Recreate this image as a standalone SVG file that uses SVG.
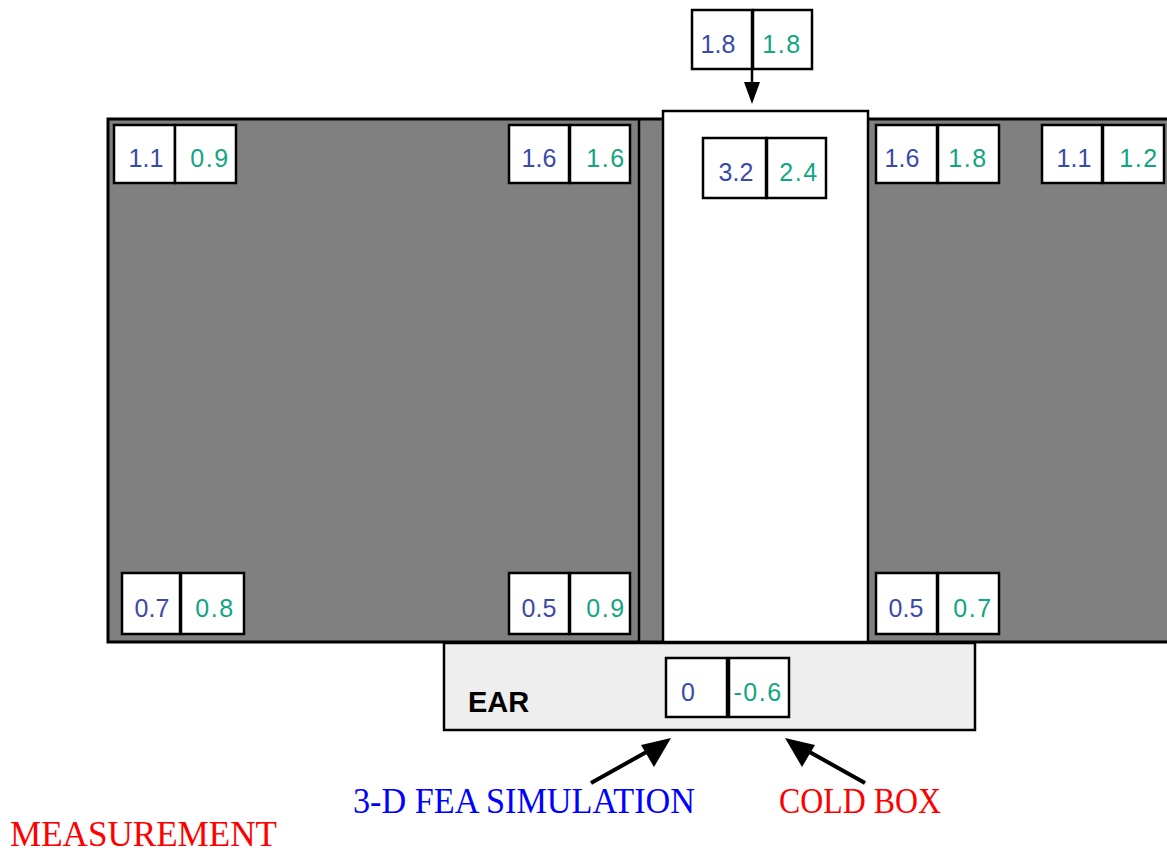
<svg xmlns="http://www.w3.org/2000/svg" width="1167" height="852" viewBox="0 0 1167 852">
<style>
.cell{fill:#fff;stroke:#000;stroke-width:2.5}
.b{font-family:"Liberation Sans",Arial,sans-serif;font-size:25px;fill:#3a4aa8;text-anchor:middle}
.g{font-family:"Liberation Sans",Arial,sans-serif;font-size:25px;fill:#12a582;text-anchor:middle;letter-spacing:1.5px}
.lbl{font-family:"Liberation Serif","Times New Roman",serif;font-size:35px}
.arrow{stroke:#000;stroke-width:4;fill:none}
</style>
<rect width="1167" height="852" fill="#fff"/>
<g id="structure">
<rect x="108" y="119" width="1075" height="523" fill="#808080" stroke="#000" stroke-width="3"/>
<line x1="639" y1="119" x2="639" y2="642" stroke="#000" stroke-width="2.5"/>
<rect x="663" y="111" width="205" height="531" fill="#fff" stroke="#000" stroke-width="2.5"/>
</g>
<g id="ear">
<rect x="444" y="643" width="531" height="87" fill="#eeeeee" stroke="#000" stroke-width="2.5"/>
<text x="468" y="712" font-family="Liberation Sans,Arial,sans-serif" font-size="29" font-weight="bold" fill="#000">EAR</text>
</g>
<g id="n-tl">
<rect class="cell" x="114" y="125" width="61" height="58"/><rect class="cell" x="175" y="125" width="61" height="58"/>
<text class="b" x="146" y="167">1.1</text><text class="g" x="210" y="167">0.9</text>
</g>
<g id="n-tm">
<rect class="cell" x="509" y="125" width="60" height="58"/><rect class="cell" x="570" y="125" width="60" height="58"/>
<text class="b" x="539" y="167">1.6</text><text class="g" x="606" y="167">1.6</text>
</g>
<g id="n-bl">
<rect class="cell" x="122" y="573" width="58" height="61"/><rect class="cell" x="181" y="573" width="63" height="61"/>
<text class="b" x="152" y="617">0.7</text><text class="g" x="215" y="617">0.8</text>
</g>
<g id="n-bm">
<rect class="cell" x="509" y="573" width="60" height="61"/><rect class="cell" x="570" y="573" width="60" height="61"/>
<text class="b" x="539" y="617">0.5</text><text class="g" x="606" y="617">0.9</text>
</g>
<g id="n-rt1">
<rect class="cell" x="876" y="125" width="61" height="58"/><rect class="cell" x="938" y="125" width="61" height="58"/>
<text class="b" x="902" y="167">1.6</text><text class="g" x="968" y="167">1.8</text>
</g>
<g id="n-rt2">
<rect class="cell" x="1042" y="125" width="60" height="58"/><rect class="cell" x="1103" y="125" width="61" height="58"/>
<text class="b" x="1074" y="167">1.1</text><text class="g" x="1139" y="167">1.2</text>
</g>
<g id="n-rb">
<rect class="cell" x="876" y="573" width="61" height="61"/><rect class="cell" x="938" y="573" width="61" height="61"/>
<text class="b" x="906" y="617">0.5</text><text class="g" x="973" y="617">0.7</text>
</g>
<g id="n-center">
<rect class="cell" x="703" y="138" width="63" height="60"/><rect class="cell" x="767" y="138" width="59" height="60"/>
<text class="b" x="736" y="181">3.2</text><text class="g" x="799" y="181">2.4</text>
</g>
<g id="n-top">
<rect class="cell" x="692" y="10" width="60" height="59"/><rect class="cell" x="753" y="10" width="59" height="59"/>
<text class="b" x="718" y="53">1.8</text><text class="g" x="782" y="53">1.8</text>
</g>
<g id="n-ear">
<rect class="cell" x="666" y="658" width="61" height="59"/><rect class="cell" x="729" y="658" width="60" height="59"/>
<text class="b" x="688" y="701">0</text><text class="g" x="758" y="701">-0.6</text>
</g>
<g id="connectors">
<line x1="752" y1="69" x2="752" y2="84" stroke="#000" stroke-width="2.5"/>
<path d="M744,82 L760,82 L752,104 Z" fill="#000"/>
<line class="arrow" x1="591" y1="783" x2="650" y2="750"/>
<path d="M671,738 L641,745 L654,767 Z" fill="#000"/>
<line class="arrow" x1="865" y1="783" x2="806" y2="750"/>
<path d="M785,738 L815,745 L802,767 Z" fill="#000"/>
</g>
<g id="labels">
<text class="lbl" x="353" y="813" fill="#0000ff" textLength="342" lengthAdjust="spacingAndGlyphs">3-D FEA SIMULATION</text>
<text class="lbl" x="779" y="813" fill="#ff0000" textLength="162" lengthAdjust="spacingAndGlyphs">COLD BOX</text>
<text class="lbl" x="10" y="846" fill="#ff0000" textLength="267" lengthAdjust="spacingAndGlyphs">MEASUREMENT</text>
</g>
</svg>
